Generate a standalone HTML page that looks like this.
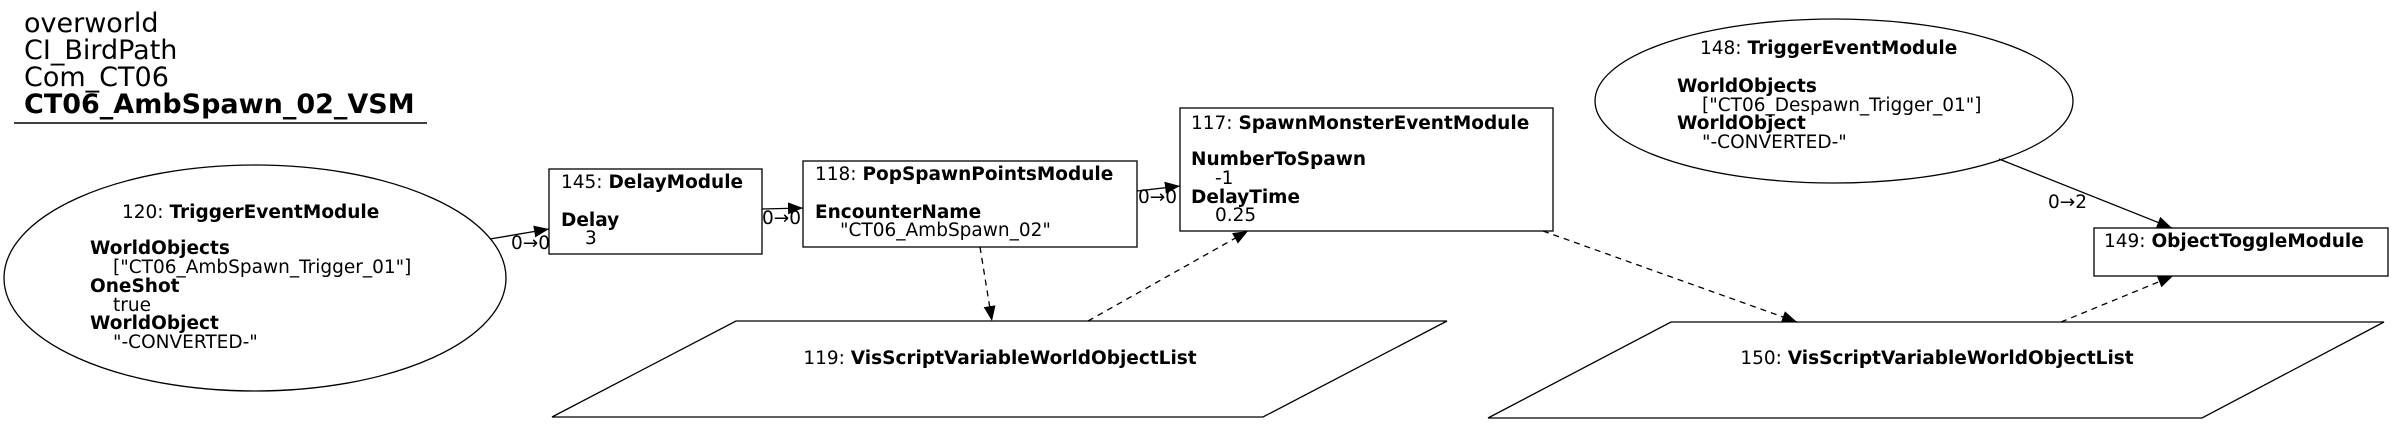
<!DOCTYPE html>
<html><head><meta charset="utf-8"><style>
html,body{margin:0;padding:0;background:#fff;}
svg{display:block;}
text{font-family:"DejaVu Sans","Liberation Sans",sans-serif;font-size:18.5px;fill:#000;}
.b{font-weight:bold;}
.t{font-size:27px;}
</style></head><body>
<svg width="2393" height="424" viewBox="0 0 2393 424" xmlns="http://www.w3.org/2000/svg">
<defs>
<marker id="a" markerUnits="userSpaceOnUse" markerWidth="16" markerHeight="12" refX="15" refY="6" orient="auto"><path d="M0,0 L15,6 L0,12 z" fill="#000"/></marker>
</defs>
<!-- title -->
<text class="t" x="24" y="32">overworld</text>
<text class="t" x="24" y="59">CI_BirdPath</text>
<text class="t" x="24" y="86">Com_CT06</text>
<text class="t b" x="24" y="113">CT06_AmbSpawn_02_VSM</text>
<line x1="14" y1="123" x2="427" y2="123" stroke="#000" stroke-width="1.5"/>

<!-- 120 ellipse -->
<ellipse cx="255" cy="278" rx="251" ry="113" fill="none" stroke="#000" stroke-width="1.3"/>
<text x="122" y="218">120: <tspan class="b">TriggerEventModule</tspan></text>
<text class="b" x="90" y="254">WorldObjects</text>
<text x="113" y="273">["CT06_AmbSpawn_Trigger_01"]</text>
<text class="b" x="90" y="292">OneShot</text>
<text x="113" y="311">true</text>
<text class="b" x="90" y="329">WorldObject</text>
<text x="113" y="348">"-CONVERTED-"</text>

<!-- 145 -->
<rect x="549" y="169" width="213" height="85" fill="none" stroke="#000" stroke-width="1.3"/>
<text x="561" y="188">145: <tspan class="b">DelayModule</tspan></text>
<text class="b" x="561" y="226">Delay</text>
<text x="585" y="244">3</text>

<!-- 118 -->
<rect x="803" y="161" width="334" height="86" fill="none" stroke="#000" stroke-width="1.3"/>
<text x="815" y="180">118: <tspan class="b">PopSpawnPointsModule</tspan></text>
<text class="b" x="815" y="218">EncounterName</text>
<text x="840" y="236">"CT06_AmbSpawn_02"</text>

<!-- 117 -->
<rect x="1180" y="108" width="373" height="123" fill="none" stroke="#000" stroke-width="1.3"/>
<text x="1191" y="129">117: <tspan class="b">SpawnMonsterEventModule</tspan></text>
<text class="b" x="1191" y="165">NumberToSpawn</text>
<text x="1215" y="184">-1</text>
<text class="b" x="1191" y="203">DelayTime</text>
<text x="1215" y="221">0.25</text>

<!-- 148 ellipse -->
<ellipse cx="1834" cy="101" rx="239" ry="82" fill="none" stroke="#000" stroke-width="1.3"/>
<text x="1700" y="54">148: <tspan class="b">TriggerEventModule</tspan></text>
<text class="b" x="1677" y="92">WorldObjects</text>
<text x="1702" y="111">["CT06_Despawn_Trigger_01"]</text>
<text class="b" x="1677" y="129">WorldObject</text>
<text x="1702" y="148">"-CONVERTED-"</text>

<!-- 149 -->
<rect x="2094" y="228" width="294" height="48" fill="none" stroke="#000" stroke-width="1.3"/>
<text x="2104" y="247">149: <tspan class="b">ObjectToggleModule</tspan></text>

<!-- 119 -->
<polygon points="736,321 1447,321 1263,417 552,417" fill="none" stroke="#000" stroke-width="1.3"/>
<text x="1000" y="364" text-anchor="middle">119: <tspan class="b">VisScriptVariableWorldObjectList</tspan></text>

<!-- 150 -->
<polygon points="1671,322 2384,322 2202,418 1488,418" fill="none" stroke="#000" stroke-width="1.3"/>
<text x="1937" y="364" text-anchor="middle">150: <tspan class="b">VisScriptVariableWorldObjectList</tspan></text>

<!-- edges -->
<g stroke="#000" stroke-width="1.3" fill="none">
<line x1="490" y1="239" x2="549" y2="229" marker-end="url(#a)"/>
<line x1="762" y1="209" x2="803" y2="208" marker-end="url(#a)"/>
<line x1="1137" y1="191" x2="1180" y2="186" marker-end="url(#a)"/>
<line x1="1999" y1="159" x2="2172" y2="228" marker-end="url(#a)"/>
<g stroke-dasharray="6,5">
<line x1="980" y1="247" x2="992" y2="321" marker-end="url(#a)"/>
<line x1="1088" y1="321" x2="1248" y2="231" marker-end="url(#a)"/>
<line x1="1543" y1="231" x2="1797" y2="322" marker-end="url(#a)"/>
<line x1="2061" y1="322" x2="2173" y2="276" marker-end="url(#a)"/>
</g>
</g>
<text x="511" y="249">0→0</text>
<text x="762" y="224">0→0</text>
<text x="1138" y="203">0→0</text>
<text x="2048" y="208">0→2</text>
</svg>
</body></html>
